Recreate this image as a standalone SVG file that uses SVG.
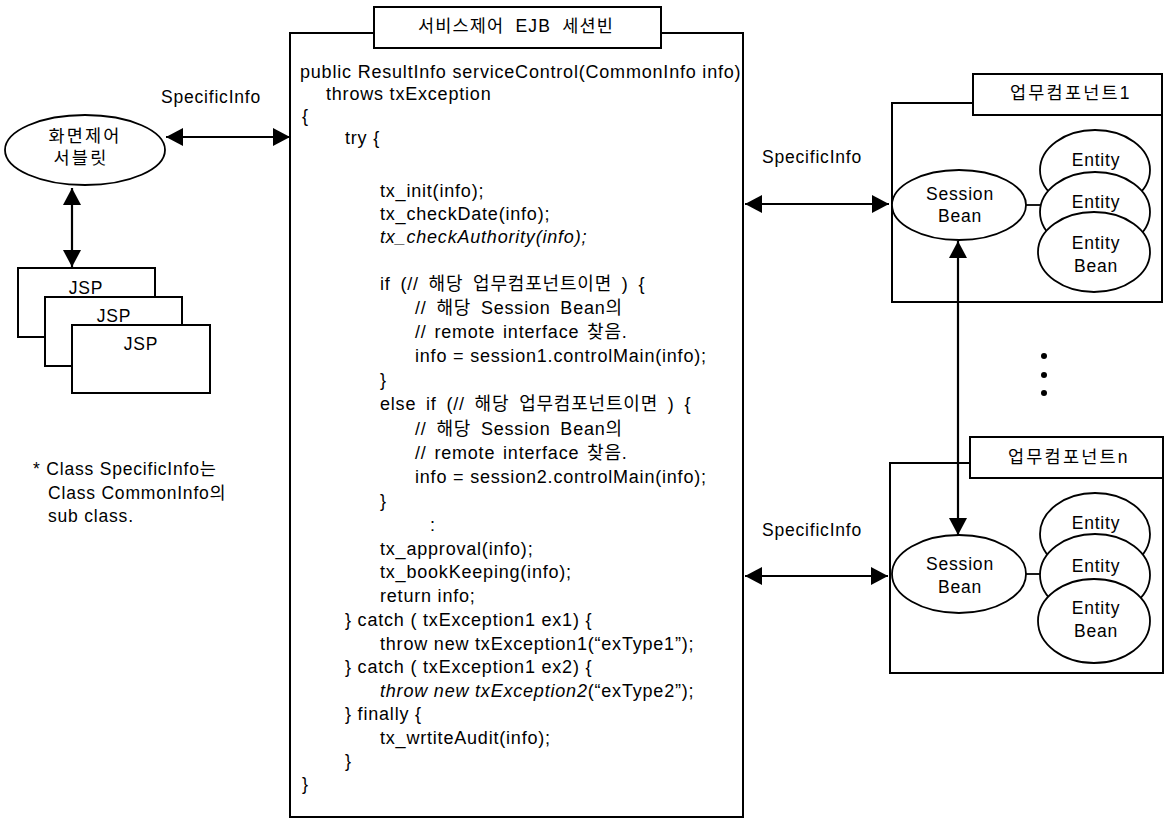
<svg xmlns="http://www.w3.org/2000/svg" width="1168" height="822" viewBox="0 0 1168 822">
<style>
text{font-family:"Liberation Sans","Noto Sans CJK KR",sans-serif;fill:#000;}
.code{font-size:18px;letter-spacing:0.8px;}
.lbl{font-size:17.5px;letter-spacing:0.8px;}
.kr{font-size:17.5px;letter-spacing:2.2px;}
.mid{text-anchor:middle;}
.it{font-style:italic;}
.box{fill:#fff;stroke:#000;stroke-width:2;}
.ell{fill:#fff;stroke:#000;stroke-width:1.8;}
.conn{stroke:#000;stroke-width:2.2;fill:none;}
</style>
<defs>
<marker id="ah" viewBox="0 0 17 18" refX="17" refY="9" markerWidth="17" markerHeight="18" markerUnits="userSpaceOnUse" orient="auto-start-reverse">
<path d="M0,0 L17,9 L0,18 z" fill="#000"/>
</marker>
</defs>
<rect width="1168" height="822" fill="#fff"/>

<g id="ejb">
<rect class="box" x="290" y="33" width="453" height="784"/>
<rect class="box" x="374" y="7" width="287" height="41"/>
<text class="lbl mid" x="516" y="32" style="word-spacing:5px;letter-spacing:1.2px">서비스제어 EJB 세션빈</text>
<g class="code">
<text x="300" y="78">public ResultInfo serviceControl(CommonInfo info)</text>
<text x="326" y="100">throws txException</text>
<text x="302" y="122">{</text>
<text x="345" y="144">try {</text>
<text x="380" y="197">tx_init(info);</text>
<text x="380" y="220">tx_checkDate(info);</text>
<text x="380" y="243" class="it">tx_checkAuthority(info);</text>
<text x="380" y="290" style="word-spacing:4px">if (// 해당 업무컴포넌트이면 ) {</text>
<text x="415" y="314" style="word-spacing:4px">// 해당 Session Bean의</text>
<text x="415" y="338" style="word-spacing:2px">// remote interface 찾음.</text>
<text x="415" y="362">info = session1.controlMain(info);</text>
<text x="380" y="386">}</text>
<text x="380" y="410" style="word-spacing:4px">else if (// 해당 업무컴포넌트이면 ) {</text>
<text x="415" y="435" style="word-spacing:4px">// 해당 Session Bean의</text>
<text x="415" y="459" style="word-spacing:2px">// remote interface 찾음.</text>
<text x="415" y="483">info = session2.controlMain(info);</text>
<text x="380" y="507">}</text>
<text x="430" y="531">:</text>
<text x="380" y="555">tx_approval(info);</text>
<text x="380" y="578">tx_bookKeeping(info);</text>
<text x="380" y="602">return info;</text>
<text x="345" y="626">} catch ( txException1 ex1) {</text>
<text x="380" y="650">throw new txException1(“exType1”);</text>
<text x="345" y="673">} catch ( txException1 ex2) {</text>
<text x="380" y="697"><tspan class="it">throw new txException2</tspan>(“exType2”);</text>
<text x="345" y="720">} finally {</text>
<text x="380" y="744">tx_wrtiteAudit(info);</text>
<text x="345" y="767">}</text>
<text x="302" y="790">}</text>
</g>
</g>

<g id="servlet">
<ellipse class="ell" cx="85" cy="150" rx="80" ry="35"/>
<text class="kr mid" x="85" y="142">화면제어</text>
<text class="kr mid" x="81" y="164">서블릿</text>
</g>

<g id="jsp1">
<rect class="box" x="18" y="268" width="137" height="69" stroke-width="1.8"/>
<text class="lbl mid" x="86" y="294">JSP</text>
</g>
<g id="jsp2">
<rect class="box" x="45" y="297" width="137" height="69" stroke-width="1.8"/>
<text class="lbl mid" x="114" y="322">JSP</text>
</g>
<g id="jsp3">
<rect class="box" x="72" y="325" width="138" height="68" stroke-width="1.8"/>
<text class="lbl mid" x="141" y="350">JSP</text>
</g>

<g id="note">
<text class="lbl" x="33" y="475">* Class SpecificInfo는</text>
<text class="lbl" x="48" y="499">Class CommonInfo의</text>
<text class="lbl" x="48" y="522">sub class.</text>
</g>

<g id="comp1">
<rect class="box" x="892" y="103" width="270" height="199"/>
<rect class="box" x="973" y="74" width="189" height="41"/>
<text class="kr" x="1010" y="99">업무컴포넌트1</text>
<ellipse class="ell" cx="959" cy="205" rx="67" ry="35"/>
<text class="lbl mid" x="960" y="200">Session</text>
<text class="lbl mid" x="960" y="222">Bean</text>
<line x1="1026" y1="205" x2="1040" y2="205" stroke="#000" stroke-width="1.8"/>
<ellipse class="ell" cx="1095" cy="170" rx="55" ry="40"/>
<text class="lbl mid" x="1096" y="166">Entity</text>
<ellipse class="ell" cx="1095" cy="212" rx="55" ry="40"/>
<text class="lbl mid" x="1096" y="208">Entity</text>
<ellipse class="ell" cx="1094" cy="252" rx="56" ry="40"/>
<text class="lbl mid" x="1096" y="249">Entity</text>
<text class="lbl mid" x="1096" y="272">Bean</text>
</g>

<g id="dots">
<circle cx="1044" cy="356" r="3"/>
<circle cx="1044" cy="375" r="3"/>
<circle cx="1044" cy="393" r="3"/>
</g>

<g id="compn">
<rect class="box" x="890" y="463" width="273" height="210"/>
<rect class="box" x="970" y="437" width="193" height="41"/>
<text class="kr" x="1008" y="463">업무컴포넌트n</text>
<ellipse class="ell" cx="959" cy="574" rx="67" ry="39"/>
<text class="lbl mid" x="960" y="570">Session</text>
<text class="lbl mid" x="960" y="593">Bean</text>
<line x1="1026" y1="574" x2="1040" y2="574" stroke="#000" stroke-width="1.8"/>
<ellipse class="ell" cx="1095" cy="534" rx="55" ry="41"/>
<text class="lbl mid" x="1096" y="529">Entity</text>
<ellipse class="ell" cx="1095" cy="575" rx="55" ry="41"/>
<text class="lbl mid" x="1096" y="572">Entity</text>
<ellipse class="ell" cx="1094" cy="621" rx="56" ry="42"/>
<text class="lbl mid" x="1096" y="614">Entity</text>
<text class="lbl mid" x="1096" y="637">Bean</text>
</g>

<g id="connectors">
<line class="conn" x1="166" y1="137" x2="290" y2="137" marker-start="url(#ah)" marker-end="url(#ah)"/>
<text class="lbl mid" x="211" y="103">SpecificInfo</text>
<line class="conn" x1="72" y1="188" x2="72" y2="267" marker-start="url(#ah)" marker-end="url(#ah)"/>
<line class="conn" x1="745" y1="204" x2="889" y2="204" marker-start="url(#ah)" marker-end="url(#ah)"/>
<text class="lbl mid" x="812" y="163">SpecificInfo</text>
<line class="conn" x1="745" y1="576" x2="888" y2="576" marker-start="url(#ah)" marker-end="url(#ah)"/>
<text class="lbl mid" x="812" y="536">SpecificInfo</text>
<line class="conn" x1="958" y1="241" x2="958" y2="535" marker-start="url(#ah)" marker-end="url(#ah)"/>
</g>
</svg>
